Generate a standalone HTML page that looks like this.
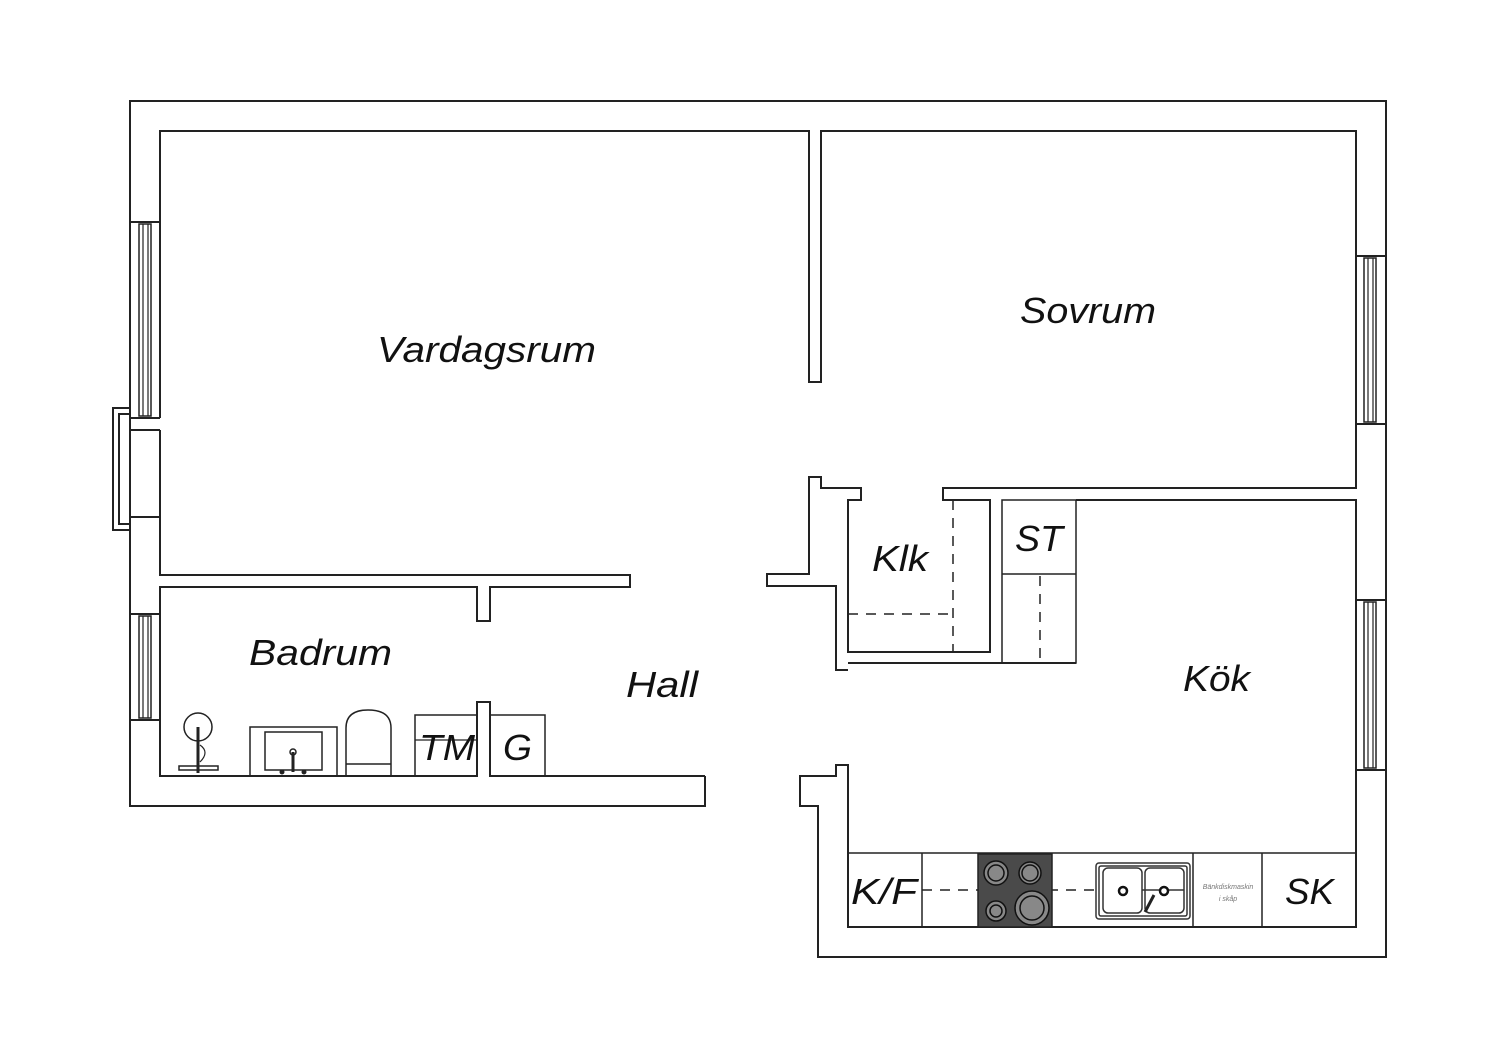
<!DOCTYPE html>
<html><head><meta charset="utf-8"><style>
html,body{margin:0;padding:0;background:#fff;}
svg{display:block;}
text{font-family:"Liberation Sans",sans-serif;font-style:italic;fill:#111;}
</style></head><body>
<svg width="1500" height="1060" viewBox="0 0 1500 1060" xmlns="http://www.w3.org/2000/svg">
<g fill="none" stroke="#222" stroke-width="2">
<!-- outer boundary -->
<polyline points="705,776 705,806 130,806 130,101 1386,101 1386,957 818,957 818,806 800,806 800,776 836,776 836,765 848,765 848,927 1356,927 1356,500 1076,500"/>
<!-- vardagsrum / left inner -->
<polyline points="160,222 160,131 809,131 809,382 821,382 821,131 1356,131 1356,488 943,488 943,500 990,500 990,652 848,652 848,500 861,500 861,488 821,488 821,477 809,477 809,574 767,574 767,586 836,586 836,670 848,670"/>
<line x1="848" y1="663" x2="1076" y2="663"/>
<polyline points="160,418 160,222"/>
<polyline points="160,430 160,517"/>
<polyline points="160,517 160,575 630,575 630,587 490,587 490,621 477,621 477,587 160,587 160,776 477,776 477,702 490,702 490,776 705,776"/>
<!-- left window 1 -->
<line x1="130" y1="222" x2="160" y2="222"/>
<line x1="130" y1="418" x2="160" y2="418"/>
<line x1="130" y1="430" x2="160" y2="430"/>
<rect x="139" y="224" width="12" height="192" stroke-width="1.5"/>
<line x1="143" y1="224" x2="143" y2="416" stroke-width="1.2"/>
<line x1="148" y1="224" x2="148" y2="416" stroke-width="1.2"/>
<!-- bay -->
<polyline points="130,408 113,408 113,530 130,530"/>
<polyline points="130,414 119,414 119,524 130,524"/>
<line x1="130" y1="517" x2="160" y2="517"/>
<!-- left window 2 -->
<line x1="130" y1="614" x2="160" y2="614"/>
<line x1="130" y1="720" x2="160" y2="720"/>
<rect x="139" y="616" width="12" height="102" stroke-width="1.5"/>
<line x1="143" y1="616" x2="143" y2="718" stroke-width="1.2"/>
<line x1="148" y1="616" x2="148" y2="718" stroke-width="1.2"/>
<!-- right windows -->
<line x1="1356" y1="256" x2="1386" y2="256"/>
<line x1="1356" y1="424" x2="1386" y2="424"/>
<rect x="1364" y="258" width="12" height="164" stroke-width="1.5"/>
<line x1="1368" y1="258" x2="1368" y2="422" stroke-width="1.2"/>
<line x1="1373" y1="258" x2="1373" y2="422" stroke-width="1.2"/>
<line x1="1356" y1="600" x2="1386" y2="600"/>
<line x1="1356" y1="770" x2="1386" y2="770"/>
<rect x="1364" y="602" width="12" height="166" stroke-width="1.5"/>
<line x1="1368" y1="602" x2="1368" y2="768" stroke-width="1.2"/>
<line x1="1373" y1="602" x2="1373" y2="768" stroke-width="1.2"/>
<!-- ST column -->
<rect x="1002" y="500" width="74" height="163" stroke-width="1.5"/>
<line x1="1002" y1="574" x2="1076" y2="574" stroke-width="1.5"/>
<!-- dashed -->
<g stroke-dasharray="10,8" stroke-width="1.5">
<line x1="953" y1="500" x2="953" y2="652"/>
<line x1="848" y1="614" x2="953" y2="614"/>
<line x1="1040" y1="576" x2="1040" y2="663"/>
<line x1="922" y1="890" x2="1100" y2="890"/>
</g>
<!-- counter -->
<line x1="848" y1="853" x2="1356" y2="853" stroke-width="1.5"/>
<line x1="922" y1="853" x2="922" y2="927" stroke-width="1.5"/>
<line x1="1193" y1="853" x2="1193" y2="927" stroke-width="1.5"/>
<line x1="1262" y1="853" x2="1262" y2="927" stroke-width="1.5"/>
<!-- bathroom boxes -->
<rect x="415" y="715" width="62" height="61" stroke-width="1.5"/>
<line x1="415" y1="740" x2="477" y2="740" stroke-width="1.2"/>
<rect x="490" y="715" width="55" height="61" stroke-width="1.5"/>
<rect x="250" y="727" width="87" height="49" stroke-width="1.5"/>
<rect x="265" y="732" width="57" height="38" stroke-width="1.5"/>
<line x1="293" y1="752" x2="293" y2="772" stroke-width="3"/>
<circle cx="293" cy="752" r="3" stroke-width="1.5"/>
<path d="M346,776 L346,728 Q346,710 368,710 Q391,710 391,728 L391,776" stroke-width="1.5"/>
<line x1="346" y1="764" x2="391" y2="764" stroke-width="1.5"/>
<circle cx="198" cy="727" r="14" stroke-width="1.5"/>
<line x1="198" y1="727" x2="198" y2="773" stroke-width="3"/>
<path d="M200,745 Q210,752 200,762" stroke-width="1.2"/>
<rect x="179" y="766" width="39" height="4" stroke-width="1.5"/>
</g>
<circle cx="282" cy="772" r="2.5" fill="#222"/>
<circle cx="304" cy="772" r="2.5" fill="#222"/>
<!-- hob -->
<rect x="978" y="854" width="74" height="73" fill="#4a4a4a" stroke="#222" stroke-width="1.5"/>
<g fill="#888" stroke="#111" stroke-width="1.5">
<circle cx="996" cy="873" r="12"/><circle cx="996" cy="873" r="8"/>
<circle cx="1030" cy="873" r="11"/><circle cx="1030" cy="873" r="8"/>
<circle cx="996" cy="911" r="10"/><circle cx="996" cy="911" r="6"/>
<circle cx="1032" cy="908" r="17"/><circle cx="1032" cy="908" r="12"/>
</g>
<!-- sink -->
<g fill="none" stroke="#333" stroke-width="1.5">
<rect x="1096" y="863" width="94" height="56" rx="3"/>
<rect x="1099" y="866" width="88" height="50" rx="2"/>
<rect x="1103" y="868" width="39" height="45" rx="5"/>
<rect x="1145" y="868" width="39" height="45" rx="5"/>
<line x1="1142" y1="890" x2="1184" y2="890"/>
</g>
<circle cx="1123" cy="891" r="4" fill="#fff" stroke="#111" stroke-width="2.5"/>
<circle cx="1164" cy="891" r="4" fill="#fff" stroke="#111" stroke-width="2.5"/>
<line x1="1154" y1="895" x2="1145" y2="912" stroke="#222" stroke-width="3"/>
<text x="1228" y="889" font-size="7" fill="#777" text-anchor="middle" style="fill:#777">Bänkdiskmaskin</text>
<text x="1228" y="901" font-size="7" text-anchor="middle" style="fill:#777">i skåp</text>
<!-- labels -->
<text x="377" y="362" font-size="36" textLength="219" lengthAdjust="spacingAndGlyphs">Vardagsrum</text>
<text x="1020" y="323" font-size="36" textLength="136" lengthAdjust="spacingAndGlyphs">Sovrum</text>
<text x="249" y="665" font-size="36" textLength="143" lengthAdjust="spacingAndGlyphs">Badrum</text>
<text x="626" y="697" font-size="36" textLength="72" lengthAdjust="spacingAndGlyphs">Hall</text>
<text x="872" y="571" font-size="36" textLength="56" lengthAdjust="spacingAndGlyphs">Klk</text>
<text x="1015" y="551" font-size="36" textLength="48" lengthAdjust="spacingAndGlyphs">ST</text>
<text x="1183" y="691" font-size="36" textLength="67" lengthAdjust="spacingAndGlyphs">Kök</text>
<text x="419" y="760" font-size="36" textLength="56" lengthAdjust="spacingAndGlyphs">TM</text>
<text x="503" y="760" font-size="36" textLength="29" lengthAdjust="spacingAndGlyphs">G</text>
<text x="851" y="904" font-size="36" textLength="66" lengthAdjust="spacingAndGlyphs">K/F</text>
<text x="1285" y="904" font-size="36" textLength="49" lengthAdjust="spacingAndGlyphs">SK</text>
</svg>
</body></html>
